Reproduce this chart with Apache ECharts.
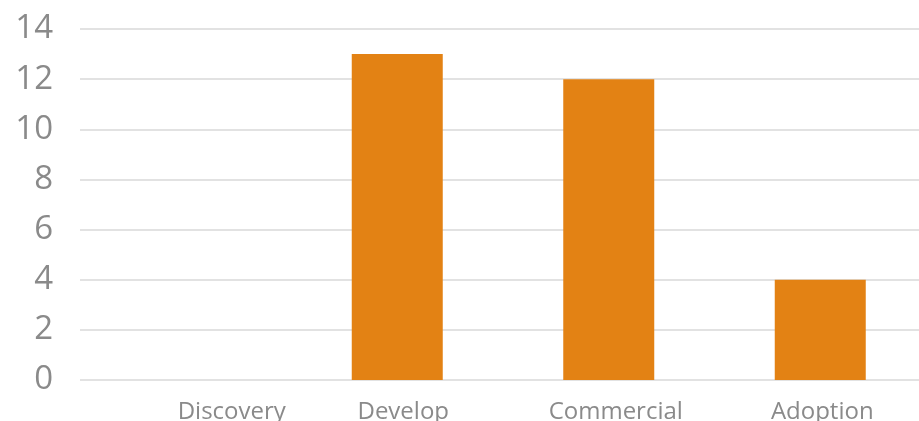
<!DOCTYPE html>
<html>
<head>
<meta charset="utf-8">
<style>
  html, body { margin: 0; padding: 0; background: #ffffff; }
  #chart { width: 919px; height: 421px; }
</style>
<script src="https://cdn.jsdelivr.net/npm/echarts@6/dist/echarts.min.js"></script>
</head>
<body>
<div id="chart"></div>
<script>
// Stage names along the pipeline
const categories = ['Discovery', 'Develop', 'Commercial', 'Adoption'];
// Count per stage
const counts = [0, 13, 12, 4];
// Value axis ticks
const yTicks = [0, 2, 4, 6, 8, 10, 12, 14];

// Per-label horizontal nudge (left padding, px) for the category labels
const labelNudge = { Discovery: 92, Develop: 12, Commercial: 14, Adoption: 4 };

const rich = {};
categories.forEach(function (c, i) {
  rich['c' + i] = {
    fontFamily: 'Open Sans',
    fontSize: 24,
    color: '#8a8a8a',
    padding: [0, 0, 0, labelNudge[c]]
  };
});

const chart = echarts.init(document.getElementById('chart'), null, { renderer: 'canvas' });
chart.setOption({
  animation: false,
  // plot band runs a little past the right edge of the canvas
  grid: {
    left: 80, width: 846, top: 29, bottom: 41,
    containLabel: false,
    outerBoundsMode: 'none'
  },
  xAxis: {
    type: 'category',
    data: categories,
    axisLine: { show: false },
    axisTick: { show: false },
    axisLabel: {
      margin: 20,
      interval: 0,
      formatter: function (v) {
        return '{c' + categories.indexOf(v) + '|' + v + '}';
      },
      rich: rich
    }
  },
  yAxis: {
    type: 'value',
    min: yTicks[0],
    max: yTicks[yTicks.length - 1],
    interval: 2,
    axisLine: { show: false },
    axisTick: { show: false },
    axisLabel: {
      margin: 27,
      fontFamily: 'Open Sans',
      fontSize: 33,
      color: '#8a8a8a'
    },
    splitLine: { lineStyle: { color: '#d9d9d9', width: 1.5 } }
  },
  series: [{
    type: 'bar',
    data: counts,
    barWidth: 91,
    itemStyle: { color: '#E38214' }
  }]
});
</script>
</body>
</html>
